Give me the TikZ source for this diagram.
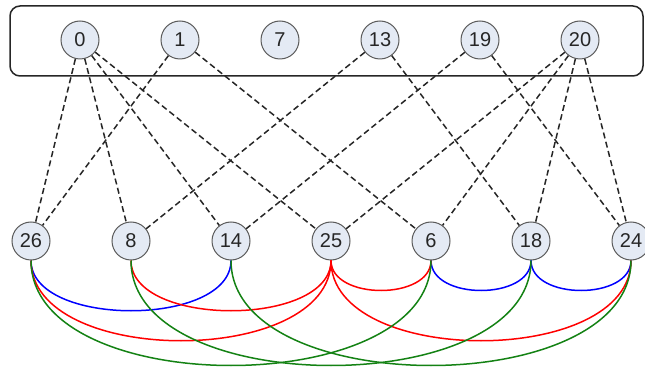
\documentclass[tikz,border=0pt]{standalone}
\usepackage{fontspec}
\setmainfont{Liberation Sans}
\definecolor{nodefill}{HTML}{E4EAF4}
\definecolor{nodeborder}{HTML}{5A5A5A}
\definecolor{arcgreen}{RGB}{20,130,20}
\begin{document}
\begin{tikzpicture}[x=1pt,y=-1pt,
  vert/.style={circle, draw=nodeborder, fill=nodefill, line width=1pt,
    minimum size=38pt, inner sep=0pt, font=\fontsize{20}{20}\selectfont, text=black!85},
  link/.style={dash pattern=on 6pt off 3.5pt, line width=1.5pt, draw=black!85},
  arcline/.style={line width=1.5pt},
  framebox/.style={draw=black!85, line width=1.5pt, rounded corners=10pt,
    minimum width=633pt, minimum height=70pt, inner sep=0pt}]
\useasboundingbox (0,0) rectangle (645,371);
\clip (0,0) rectangle (645,371);
\node[framebox] (frame) at (326.5,41) {};
% top row
\node[vert] (t0)  at (80,40)  {0};
\node[vert] (t1)  at (180,40) {1};
\node[vert] (t7)  at (280,40) {7};
\node[vert] (t13) at (380,40) {13};
\node[vert] (t19) at (480,40) {19};
\node[vert] (t20) at (580,40) {20};
% bottom row
\node[vert] (b26) at (31,241)  {26};
\node[vert] (b8)  at (131,241) {8};
\node[vert] (b14) at (231,241) {14};
\node[vert] (b25) at (331,241) {25};
\node[vert] (b6)  at (431,241) {6};
\node[vert] (b18) at (531,241) {18};
\node[vert] (b24) at (631,241) {24};
% dashed links
\draw[link] (t0) -- (b26);
\draw[link] (t0) -- (b8);
\draw[link] (t0) -- (b14);
\draw[link] (t0) -- (b25);
\draw[link] (t1) -- (b26);
\draw[link] (t1) -- (b6);
\draw[link] (t13) -- (b8);
\draw[link] (t13) -- (b18);
\draw[link] (t19) -- (b14);
\draw[link] (t19) -- (b24);
\draw[link] (t20) -- (b25);
\draw[link] (t20) -- (b6);
\draw[link] (t20) -- (b18);
\draw[link] (t20) -- (b24);
% arcs
\draw[arcline, blue] (b26.south) .. controls +(0,67) and +(0,67) .. (b14.south);
\draw[arcline, blue] (b6.south) .. controls +(0,40) and +(0,40) .. (b18.south);
\draw[arcline, blue] (b18.south) .. controls +(0,40) and +(0,40) .. (b24.south);
\draw[arcline, red] (b8.south) .. controls +(0,67) and +(0,67) .. (b25.south);
\draw[arcline, red] (b25.south) .. controls +(0,40) and +(0,40) .. (b6.south);
\draw[arcline, red] (b26.south) .. controls +(0,107) and +(0,107) .. (b25.south);
\draw[arcline, red] (b25.south) .. controls +(0,107) and +(0,107) .. (b24.south);
\draw[arcline, arcgreen] (b26.south) .. controls +(0,140) and +(0,140) .. (b6.south);
\draw[arcline, arcgreen] (b8.south) .. controls +(0,140) and +(0,140) .. (b18.south);
\draw[arcline, arcgreen] (b14.south) .. controls +(0,140) and +(0,140) .. (b24.south);
\end{tikzpicture}
\end{document}
